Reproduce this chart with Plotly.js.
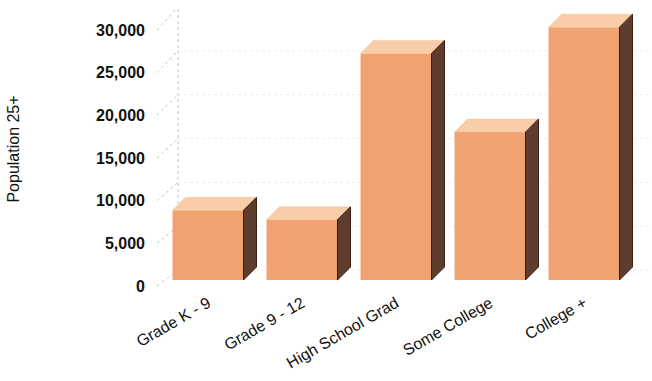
<!DOCTYPE html>
<html>
<head>
<meta charset="utf-8">
<script src="https://cdn.plot.ly/plotly-3.0.1.min.js"></script>
<style>html,body{margin:0;padding:0;background:#fff;}#chart{width:652px;height:381px;}</style>
</head>
<body>
<div id="chart"></div>
<script>
// ---- data ----
const categories = ['Grade K - 9', 'Grade 9 - 12', 'High School Grad', 'Some College', 'College +'];
const population = [8100, 7000, 26350, 17200, 29400];
const yTickValues = [0, 5000, 10000, 15000, 20000, 25000, 30000];

// ---- layout geometry (pixels) ----
const W = 652, H = 381;
const M = {l: 155, r: 0, t: 8, b: 91};
const pxPerCat = 94, firstCenterPx = 208;
const plotH = H - M.t - M.b, bottomPx = H - M.b;
const xmin = -(firstCenterPx - M.l) / pxPerCat;
const xmax = xmin + (W - M.l - M.r) / pxPerCat;
// label axis: 0 at 286px, 30,000 at 30px
const k1 = 256 / 30000;
const y1min = -(bottomPx - 286) / k1, y1max = y1min + plotH / k1;
// bar axis: front-face floor at 280px
const k2 = 0.0086;
const y2min = -(bottomPx - 280) / k2, y2max = y2min + plotH / k2;
const barW = 0.755, depthX = 13 / pxPerCat, depthY = 13 / k2;

const idx = categories.map((_, i) => i);
const traces = [];

// ---- background wall (decoration) in label-axis units ----
const wallXpx = 178, wallBottomPx = 270, wallTopPx = 7;
const wallX = xmin + (wallXpx - M.l) / pxPerCat;
const toY1 = px => y1min + (bottomPx - px) / k1;
const wallPx = v => wallBottomPx - v * (wallBottomPx - wallTopPx) / 30000;
const dx1 = [], dy1 = [], hx = [], hy = [];
yTickValues.forEach(v => {
  dx1.push(xmin + 2 / pxPerCat, wallX, null);
  dy1.push(v, toY1(wallPx(v)), null);
  hx.push(wallX, xmax, null);
  hy.push(toY1(wallPx(v)), toY1(wallPx(v)), null);
});
traces.push({
  type: 'scatter', mode: 'lines', x: hx, y: hy, yaxis: 'y',
  line: {color: '#ececec', width: 1, dash: 'dot'}, hoverinfo: 'skip', showlegend: false
});
traces.push({
  type: 'scatter', mode: 'lines',
  x: dx1.concat([wallX, wallX, null, wallX, xmax]),
  y: dy1.concat([toY1(wallBottomPx), toY1(wallTopPx), null, toY1(wallTopPx), toY1(wallTopPx)]),
  yaxis: 'y', line: {color: '#c4c4c4', width: 1, dash: 'dot'}, hoverinfo: 'skip', showlegend: false
});

traces.push({
  type: 'bar', x: idx, y: population, yaxis: 'y2', width: barW,
  marker: {color: '#F0A271', line: {width: 0}}, hoverinfo: 'skip', showlegend: false
});
population.forEach((v, i) => {
  const l = i - barW / 2, r = i + barW / 2;
  traces.push({
    type: 'scatter', mode: 'lines', yaxis: 'y2', fill: 'toself',
    x: [l, r, r + depthX, l + depthX, l], y: [v, v, v + depthY, v + depthY, v],
    fillcolor: '#F8CDA8', line: {width: 0.5, color: '#F4BE95'}, hoverinfo: 'skip', showlegend: false
  });
  traces.push({
    type: 'scatter', mode: 'lines', yaxis: 'y2', fill: 'toself',
    x: [r, r + depthX, r + depthX, r, r], y: [0, depthY, v + depthY, v, 0],
    fillcolor: '#5E3C2E', line: {width: 1, color: '#3A1C12'}, hoverinfo: 'skip', showlegend: false
  });
});

const layout = {
  width: W, height: H, margin: M,
  paper_bgcolor: '#fff', plot_bgcolor: '#fff',
  showlegend: false,
  font: {family: 'Liberation Sans, Arial, sans-serif', color: '#111'},
  xaxis: {
    range: [xmin, xmax], tickvals: idx, ticktext: categories, tickangle: -30,
    showgrid: false, zeroline: false, showline: false, ticks: '',
    tickfont: {size: 16, color: '#111'}
  },
  yaxis: {
    range: [y1min, y1max], tickvals: yTickValues, tickformat: ',',
    showgrid: false, zeroline: false, showline: false, ticks: '',
    ticklabelstandoff: 9,
    tickfont: {size: 16, color: '#111', weight: 'bold'},
    title: {text: 'Population 25+', font: {size: 16, color: '#111'}, standoff: 72}
  },
  yaxis2: {range: [y2min, y2max], overlaying: 'y', visible: false, showgrid: false, zeroline: false}
};

Plotly.newPlot('chart', traces, layout, {staticPlot: true, displayModeBar: false});
</script>
</body>
</html>
